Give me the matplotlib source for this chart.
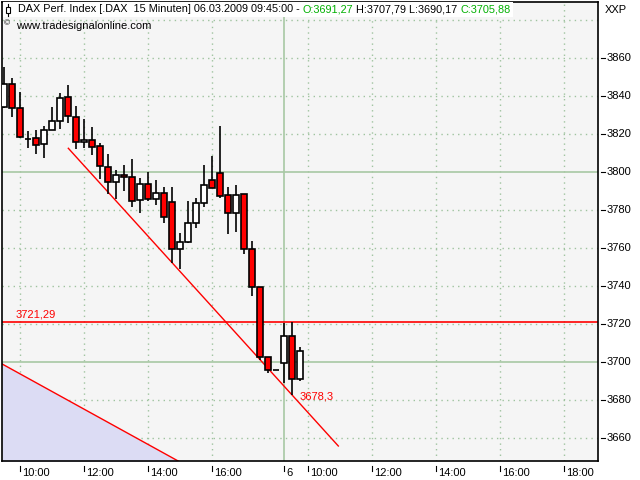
import matplotlib
matplotlib.use('Agg')
import matplotlib.pyplot as plt
import matplotlib.transforms as mtransforms
from matplotlib.patches import Rectangle
from matplotlib.lines import Line2D

plt.rcParams['font.family'] = ['Liberation Sans', 'DejaVu Sans']

# ---------------- data ----------------
bar_index = list(range(38))
opens = [3834.5, 3846.5, 3833.7, 3817.6, 3817.9, 3814.7, 3822.1, 3826.8, 3839.5, 3829.3,
         3815.8, 3816.8, 3813.7, 3802.6, 3794.9, 3798.4, 3797.4, 3785.3, 3793.7, 3785.8,
         3789.0, 3784.2, 3759.5, 3763.5, 3773.2, 3783.7, 3795.8, 3799.6, 3787.9, 3778.4,
         3788.4, 3759.5, 3739.5, 3702.6, 3696.0, 3699.5, 3713.9, 3691.27]
highs = [3855.6, 3849.5, 3842.4, 3821.9, 3822.3, 3824.2, 3834.4, 3841.7, 3846.0, 3835.0,
         3828.0, 3823.8, 3815.6, 3809.6, 3801.2, 3803.7, 3806.8, 3797.0, 3800.3, 3796.0,
         3792.1, 3792.1, 3767.9, 3784.9, 3786.3, 3803.8, 3808.7, 3824.5, 3792.1, 3793.3,
         3788.6, 3763.8, 3739.6, 3702.7, 3696.0, 3720.5, 3721.29, 3707.79]
lows = [3833.8, 3829.0, 3818.0, 3813.0, 3809.8, 3807.7, 3822.0, 3822.6, 3826.1, 3812.3,
        3812.6, 3809.3, 3796.5, 3788.4, 3786.1, 3790.3, 3781.9, 3778.4, 3785.0, 3783.0,
        3773.5, 3752.1, 3749.3, 3763.0, 3770.8, 3781.9, 3791.5, 3786.3, 3767.4, 3768.4,
        3757.0, 3735.0, 3701.2, 3694.5, 3696.0, 3688.9, 3682.8, 3690.17]
closes = [3846.5, 3833.7, 3818.4, 3817.6, 3814.2, 3822.1, 3826.8, 3838.9, 3829.6, 3815.8,
          3817.0, 3813.2, 3803.2, 3794.9, 3798.4, 3797.4, 3784.7, 3793.7, 3785.8, 3788.9,
          3776.6, 3759.5, 3763.2, 3773.2, 3783.7, 3793.2, 3791.6, 3787.7, 3778.4, 3788.2,
          3759.4, 3739.5, 3702.6, 3695.9, 3696.0, 3713.7, 3691.0, 3705.88]

tick_pos = [2, 10, 18, 26, 35, 38, 46, 54, 62, 70]
tick_labels = ['10:00', '12:00', '14:00', '16:00', '6', '10:00', '12:00', '14:00', '16:00', '18:00']
day_break = 35
y_ticks = [3660, 3680, 3700, 3720, 3740, 3760, 3780, 3800, 3820, 3840, 3860]
y_grid = y_ticks + [3880]
green_levels = [3700, 3800]

ref_level = 3721.29
low_label_value = 3678.3
low_label_pos = (36.96, 3681.9)

trend1_x = [8.0, 41.75]
trend1_y = [3812.6, 3655.9]
trend2_x = [-0.29, 22.5]
trend2_y = [3699.1, 3646.2]

title_main = 'DAX Perf. Index [.DAX  15 Minuten] 06.03.2009 09:45:00 -'
copyright_text = 'www.tradesignalonline.com'

# ---------------- figure ----------------
W, H = 640, 480
fig = plt.figure(figsize=(6.4, 4.8), dpi=100)
fig.patch.set_facecolor('white')
ax = fig.add_axes([2 / W, 19 / H, 596 / W, 459 / H])
ax.set_facecolor('#f5f5f5')
ax.set_xlim(-0.29, 74.21)
ax.set_ylim(3648.0, 3889.6)
for sp in ax.spines.values():
    sp.set_color('black')
    sp.set_linewidth(1.2)
ax.set_xticks([])
ax.set_yticks([])

grid_col = '#9fc39f'
solid_green = '#a8c8a4'

# grids
for x in tick_pos:
    if x == day_break:
        ax.axvline(x, color=solid_green, lw=1.2, zorder=1)
    else:
        ax.axvline(x, color=grid_col, lw=1.0, ls=(0, (1, 3)), zorder=1)
for y in y_grid:
    if y in green_levels:
        ax.axhline(y, color=solid_green, lw=1.2, zorder=1)
    else:
        ax.axhline(y, color=grid_col, lw=1.0, ls=(0, (1, 3)), zorder=1)

# shaded channel area
ax.fill_between(trend2_x, trend2_y, 3600, color='#dcdcf4', zorder=1.5, lw=0)
ax.plot(trend2_x, trend2_y, color='red', lw=1.0, zorder=2)

# reference level
ax.axhline(ref_level, color='red', lw=1.2, zorder=2)
ax.text(1.45, ref_level + 1.0, f'{ref_level:.2f}'.replace('.', ','), color='red',
        fontsize=8, ha='left', va='bottom', zorder=6)

# trend line
ax.plot(trend1_x, trend1_y, color='red', lw=1.0, zorder=2)

# candles
bw = 0.72
for i, o, h, l, c in zip(bar_index, opens, highs, lows, closes):
    ax.vlines(i, l, h, color='black', lw=1.2, zorder=3)
    fc = 'white' if c >= o else 'red'
    ax.add_patch(Rectangle((i - bw / 2, min(o, c)), bw, abs(c - o), facecolor=fc,
                           edgecolor='black', lw=1.2, zorder=4))

ax.text(low_label_pos[0], low_label_pos[1], f'{low_label_value:.1f}'.replace('.', ','),
        color='red', fontsize=8, ha='left', va='center', zorder=6)

# x ticks (custom, offset below axis)
xt = mtransforms.blended_transform_factory(ax.transData, fig.dpi_scale_trans)
for x, lab in zip(tick_pos, tick_labels):
    ax.add_line(Line2D([x, x], [(H - 466) / 100, (H - 471) / 100], transform=xt,
                       color='black', lw=0.8, clip_on=False))
    ax.text(x, (H - 473) / 100, lab, transform=mtransforms.offset_copy(xt, fig=fig, x=2, units='dots'),
            ha='left', va='center', fontsize=8, clip_on=False)

# y ticks (custom, right side)
yt = mtransforms.blended_transform_factory(fig.dpi_scale_trans, ax.transData)
for y in y_ticks:
    ax.add_line(Line2D([601 / 100, 605 / 100], [y, y], transform=yt, color='black', lw=0.8,
                       clip_on=False))
    ax.text(607 / 100, y, str(y), transform=yt, ha='left', va='center', fontsize=8, clip_on=False)

fig.text(605 / W, 1 - 10 / H, 'XXP', ha='left', va='center', fontsize=8)

# header
renderer = fig.canvas.get_renderer()
HF = 7.8
def text_w(s):
    t = fig.text(0, 0, s, fontsize=HF)
    w = t.get_window_extent(renderer).width
    t.remove()
    return w
space_w = text_w('a a') - text_w('aa')

green = '#00b000'
segments = [
    (title_main, 'black'),
    (f'O:{opens[-1]:.2f}'.replace('.', ','), green),
    (f'H:{highs[-1]:.2f}'.replace('.', ',') + ' ' + f'L:{lows[-1]:.2f}'.replace('.', ','), 'black'),
    (f'C:{closes[-1]:.2f}'.replace('.', ','), green),
]
xpix = 18
hy = 1 - 9.5 / H
for s, col in segments:
    t = fig.text(xpix / W, hy, s, color=col, fontsize=HF, ha='left', va='center', zorder=5)
    ext = t.get_window_extent(renderer)
    xpix = ext.x1 + space_w
end_x = xpix - space_w
fig.add_artist(Rectangle((3 / W, 1 - 17 / H), (end_x + 2 - 3) / W, 15 / H,
                         transform=fig.transFigure, facecolor='white', edgecolor='none', zorder=1))
# header candle icon
fig.add_artist(Line2D([7.5 / W, 7.5 / W], [1 - 4 / H, 1 - 16 / H], transform=fig.transFigure,
                      color='black', lw=0.8, zorder=5))
fig.add_artist(Rectangle((5.5 / W, 1 - 13 / H), 4 / W, 6 / H, transform=fig.transFigure,
                         facecolor='white', edgecolor='black', lw=0.8, zorder=6))

fig.text(4 / W, 1 - 24 / H, '\u00a9', fontsize=6, ha='left', va='center', zorder=5)
fig.text(16 / W, 1 - 26 / H, copyright_text, fontsize=8, ha='left', va='center', zorder=5)

fig.savefig('out.png', dpi=100)
